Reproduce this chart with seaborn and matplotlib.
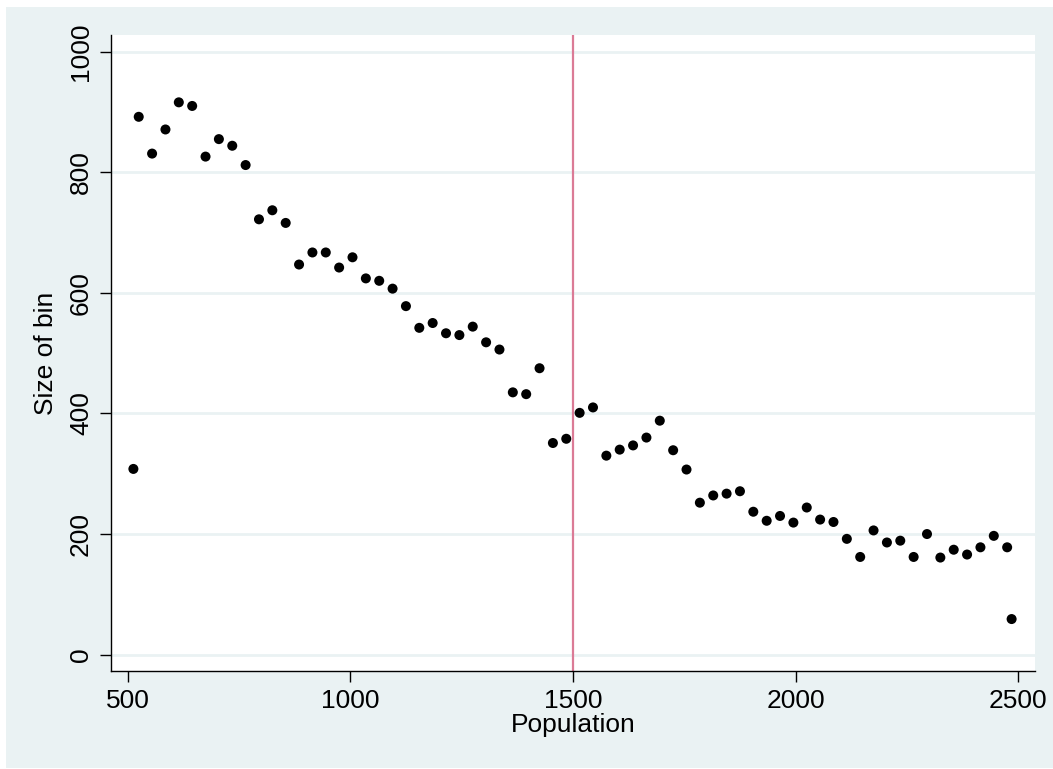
import seaborn as sns
import matplotlib.pyplot as plt
from matplotlib.patches import Rectangle
import pandas as pd

# values
population = [513, 525, 555, 585, 615, 645, 675, 705, 735, 765, 795, 825, 855, 885,
              915, 945, 975, 1005, 1035, 1065, 1095, 1125, 1155, 1185, 1215, 1245,
              1275, 1305, 1335, 1365, 1395, 1425, 1455, 1485, 1515, 1545, 1575, 1605,
              1635, 1665, 1695, 1725, 1755, 1785, 1815, 1845, 1875, 1905, 1935, 1965,
              1995, 2025, 2055, 2085, 2115, 2145, 2175, 2205, 2235, 2265, 2295, 2325,
              2355, 2385, 2415, 2445, 2475, 2485]
bin_size = [308, 892, 831, 871, 916, 910, 826, 855, 844, 812, 722, 737, 716, 647,
            667, 667, 642, 659, 624, 620, 607, 578, 542, 550, 533, 530, 544, 518,
            506, 435, 432, 475, 351, 358, 401, 410, 330, 340, 347, 360, 388, 339,
            307, 252, 264, 267, 271, 237, 222, 230, 219, 244, 224, 220, 192, 162,
            206, 186, 189, 162, 200, 161, 174, 166, 178, 197, 178, 59]
cutoff = 1500
x_ticks = [500, 1000, 1500, 2000, 2500]
y_ticks = [0, 200, 400, 600, 800, 1000]

df = pd.DataFrame({'Population': population, 'Size of bin': bin_size})

sns.set_style('white', {'text.color': 'black', 'axes.labelcolor': 'black',
                        'xtick.color': 'black', 'ytick.color': 'black'})
plt.rcParams['font.family'] = ['Liberation Sans', 'DejaVu Sans']

bg = '#EAF2F3'
fig = plt.figure(figsize=(10.53, 7.69), dpi=100)
fig.patch.set_facecolor('white')
# light outer region (Stata style graph background), behind the axes
fig.patches.append(Rectangle((6 / 1053, 1 / 769), 1047 / 1053, 761 / 769,
                             transform=fig.transFigure, facecolor=bg,
                             edgecolor='none', zorder=-10))
ax = fig.add_axes([0.1054, 0.1274, 0.8775, 0.8271])
ax.set_zorder(1)
ax.set_facecolor('white')

for yt in y_ticks:
    ax.axhline(yt, color=bg, lw=2, zorder=1)
ax.axvline(cutoff, color='#DB7B96', lw=1.6, zorder=2)

sns.scatterplot(data=df, x='Population', y='Size of bin', ax=ax, color='black',
                s=52, edgecolor='none', zorder=3)

ax.set_xlim(462.7, 2537.5)
ax.set_ylim(-27.2, 1027.7)
ax.set_xticks(x_ticks)
ax.set_yticks(y_ticks)
ax.tick_params(axis='both', direction='out', length=8, width=1, color='black',
               labelcolor='black', labelsize=19, pad=5, bottom=True, left=True)
for lab in ax.get_yticklabels():
    lab.set_rotation(90)
    lab.set_va('center')

for side in ['top', 'right']:
    ax.spines[side].set_visible(False)
for side in ['left', 'bottom']:
    ax.spines[side].set_color('black')
    ax.spines[side].set_linewidth(1)

ax.set_xlabel('Population', fontsize=19, labelpad=0, color='black')
ax.set_ylabel('Size of bin', fontsize=19, labelpad=8, color='black')

fig.savefig('out.png', dpi=100)
